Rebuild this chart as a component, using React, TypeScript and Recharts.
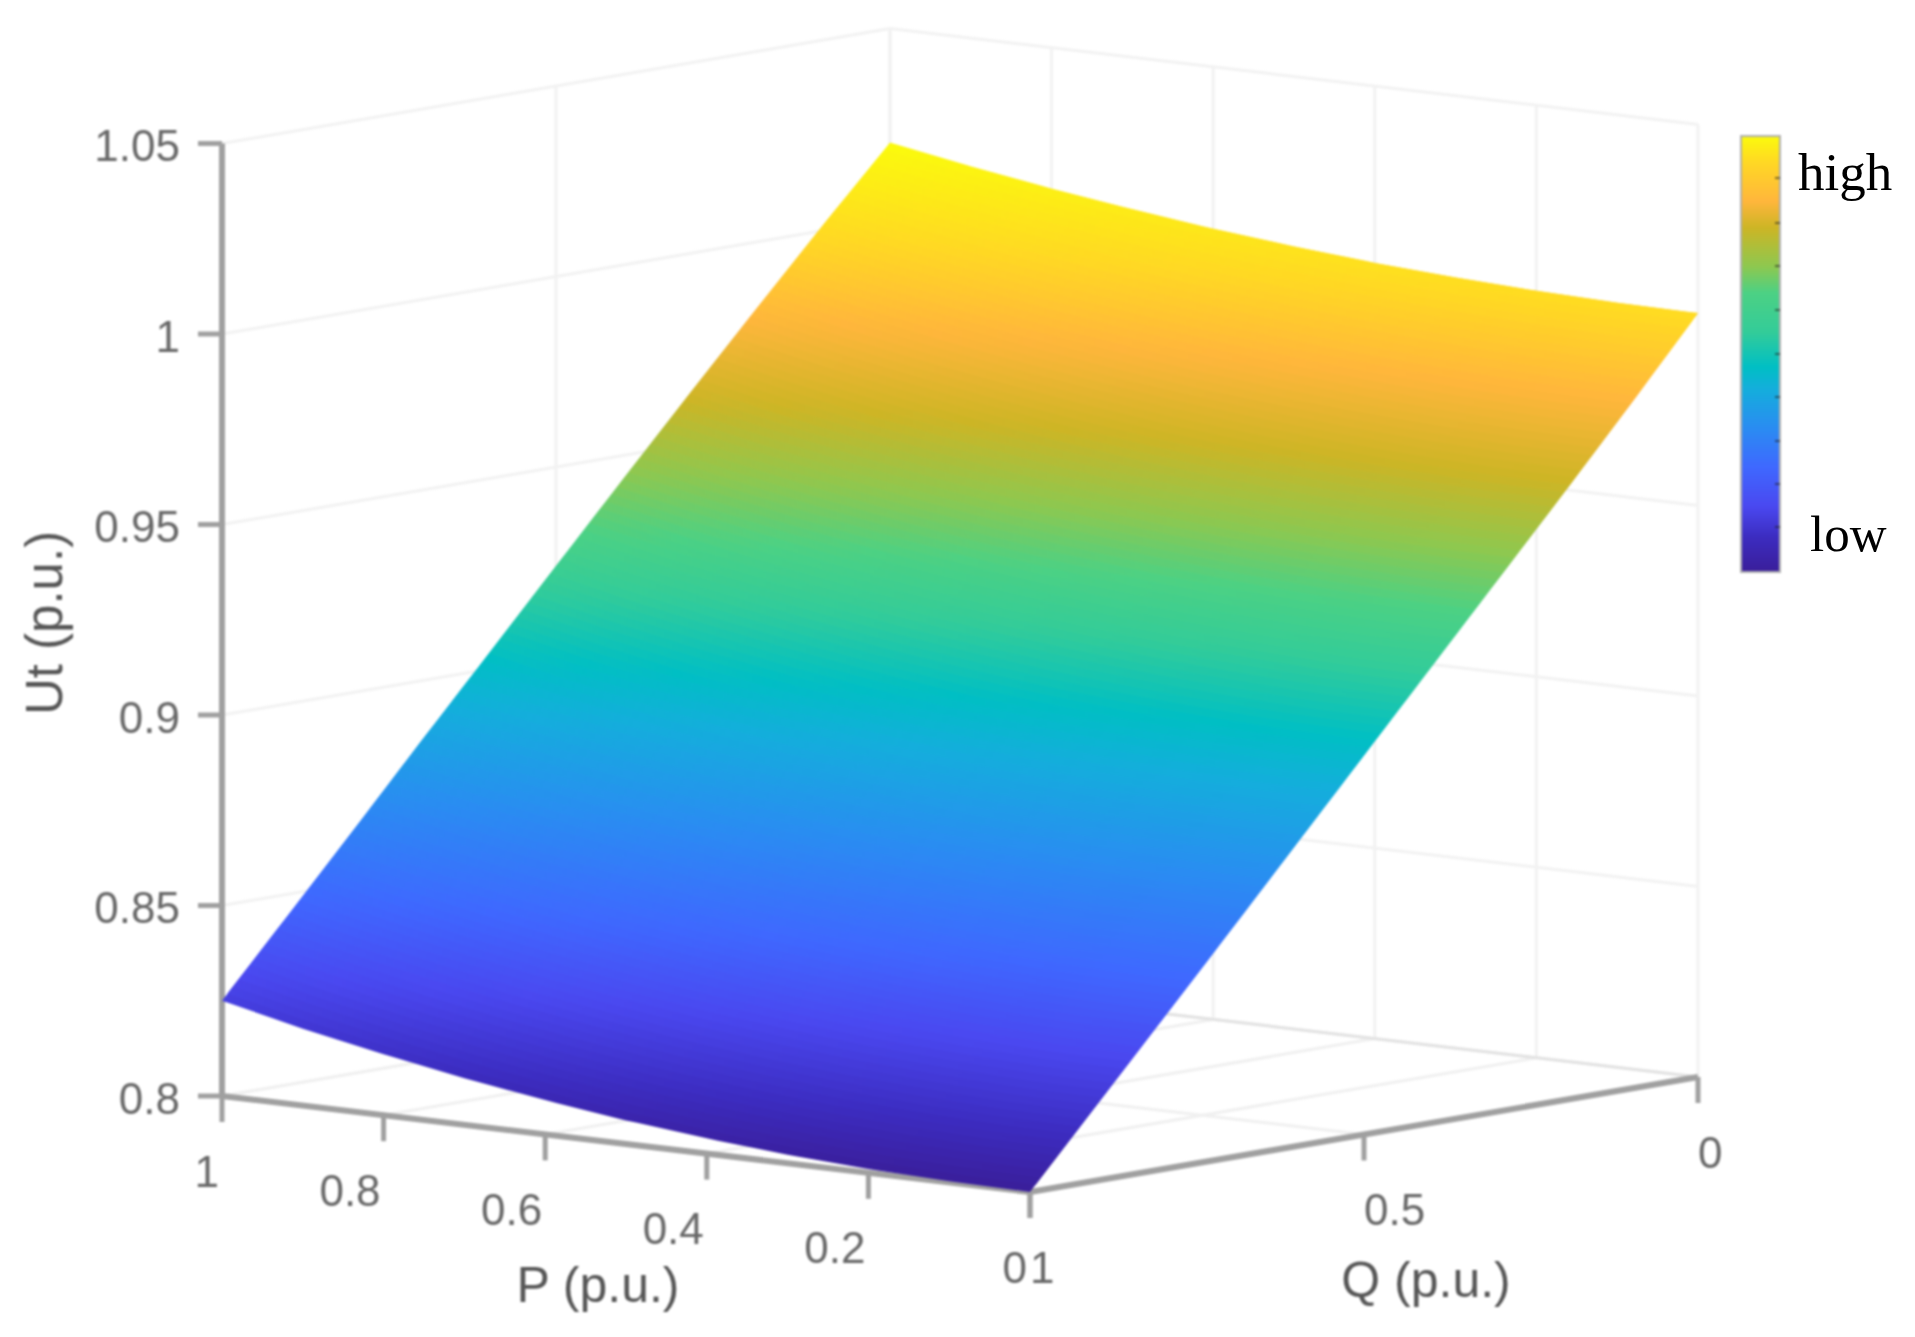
import { Area, ComposedChart, Line, ReferenceArea, ReferenceDot, XAxis, YAxis } from "recharts";

const WIDTH = 1915;
const HEIGHT = 1337;

const pValues = [0, 0.1, 0.2, 0.3, 0.4, 0.5, 0.6, 0.7, 0.8, 0.9, 1];
const qValues = [1, 0.9, 0.8, 0.7, 0.6, 0.5, 0.4, 0.3, 0.2, 0.1, 0];

// Ut: one row per Q, one column per P
const utRows = [
  [0.8, 0.8003, 0.801, 0.8022, 0.804, 0.8062, 0.809, 0.8122, 0.816, 0.8202, 0.825],
  [0.8198, 0.82, 0.8208, 0.822, 0.8238, 0.826, 0.8288, 0.832, 0.8357, 0.84, 0.8447],
  [0.8396, 0.8398, 0.8406, 0.8418, 0.8436, 0.8458, 0.8486, 0.8518, 0.8555, 0.8598, 0.8645],
  [0.8595, 0.8598, 0.8605, 0.8618, 0.8635, 0.8658, 0.8685, 0.8718, 0.8755, 0.8798, 0.8845],
  [0.8795, 0.8797, 0.8805, 0.8817, 0.8835, 0.8857, 0.8884, 0.8916, 0.8953, 0.8995, 0.9042],
  [0.8995, 0.8997, 0.9005, 0.9017, 0.9034, 0.9056, 0.9083, 0.9115, 0.9152, 0.9193, 0.924],
  [0.9195, 0.9197, 0.9205, 0.9217, 0.9234, 0.9255, 0.9282, 0.9314, 0.935, 0.9391, 0.9437],
  [0.9395, 0.9397, 0.9404, 0.9416, 0.9433, 0.9454, 0.948, 0.9511, 0.9547, 0.9587, 0.9632],
  [0.9595, 0.9597, 0.9604, 0.9616, 0.9632, 0.9652, 0.9678, 0.9708, 0.9742, 0.9781, 0.9825],
  [0.9798, 0.98, 0.9807, 0.9818, 0.9833, 0.9852, 0.9876, 0.9904, 0.9937, 0.9974, 1.0015],
  [1.0005, 1.0007, 1.0013, 1.0023, 1.0036, 1.0054, 1.0075, 1.0101, 1.013, 1.0163, 1.02],
];

const utTicks = [0.8, 0.85, 0.9, 0.95, 1, 1.05];
const utTickLabels = ["0.8", "0.85", "0.9", "0.95", "1", "1.05"];
const pTicks = [1, 0.8, 0.6, 0.4, 0.2, 0];
const pTickLabels = ["1", "0.8", "0.6", "0.4", "0.2", "0"];
const qTicks = [1, 0.5, 0];
const qTickLabels = ["1", "0.5", "0"];

// colour bar, bottom to top
const barStops = [0, 0.08, 0.15, 0.24, 0.33, 0.42, 0.47, 0.55, 0.64, 0.7, 0.79, 0.85, 0.94, 1];
// same colours as they land on the surface
const surfaceStops = [0, 0.06, 0.14, 0.22, 0.32, 0.415, 0.468, 0.54, 0.6, 0.66, 0.735, 0.82, 0.9, 1];
const mapColors = [
  "#3a1e9a", "#3c2cc0", "#4a48f0", "#3f68ff", "#2a8cf2", "#14aedc", "#00bfc4",
  "#33cc99", "#4cd184", "#8dc850", "#cdb525", "#ffb63c", "#ffd824", "#fbfb0c",
];
const barTicks = [178, 223, 266, 310, 354, 397, 441, 484, 527];

const UT_MIN = 0.8;
const UT_MAX = 1.02;
const SUBSTEPS = 12;

// the MATLAB view is orthographic, so one affine map is enough
const project = (p: number, q: number, ut: number) => ({
  x: 1030 - 808 * p + 668 * (1 - q),
  y: 1192 - 96 * p - 115 * (1 - q) - 3810 * (ut - UT_MIN),
});

const hexToRgb = (h: string) => [1, 3, 5].map((i) => parseInt(h.slice(i, i + 2), 16));

function colorFor(ut: number) {
  const t = Math.min(1, Math.max(0, (ut - UT_MIN) / (UT_MAX - UT_MIN)));
  let i = 0;
  while (i < surfaceStops.length - 2 && t > surfaceStops[i + 1]) i++;
  const f = (t - surfaceStops[i]) / (surfaceStops[i + 1] - surfaceStops[i]);
  const a = hexToRgb(mapColors[i]);
  const b = hexToRgb(mapColors[i + 1]);
  return `rgb(${a.map((v, k) => Math.round(v + (b[k] - v) * f)).join(",")})`;
}

// shading between the read rows, like shading interp
function rowAt(t: number) {
  const i = Math.min(Math.floor(t), utRows.length - 2);
  const f = t - i;
  return pValues.map((p, k) => ({
    p,
    q: qValues[i] + (qValues[i + 1] - qValues[i]) * f,
    ut: utRows[i][k] + (utRows[i + 1][k] - utRows[i][k]) * f,
  }));
}

const rowPoints = (t: number) => rowAt(t).map((c) => project(c.p, c.q, c.ut)).reverse();

function yOn(poly: { x: number; y: number }[], x: number) {
  for (let i = 0; i < poly.length - 1; i++) {
    const a = poly[i];
    const b = poly[i + 1];
    if (x <= b.x) return a.y + ((b.y - a.y) * (x - a.x)) / (b.x - a.x || 1);
  }
  return poly[poly.length - 1].y;
}

const lastT = utRows.length - 1;
const stripCount = lastT * SUBSTEPS;

const strips = Array.from({ length: stripCount }, (_, j) => {
  const low = rowPoints(j / SUBSTEPS);
  const up = rowPoints(Math.min((j + 2) / SUBSTEPS, lastT));
  const upper = [low[0], ...up];
  const lower = [...low, up[up.length - 1]];
  const xs = [...new Set([...upper, ...lower].map((pt) => pt.x))].sort((a, b) => a - b);
  const mid = rowAt((j + 0.5) / SUBSTEPS).reverse();
  const midPts = mid.map((c) => project(c.p, c.q, c.ut));
  return {
    id: `strip-${j}`,
    data: xs.map((x) => ({ x, range: [yOn(upper, x), yOn(lower, x)] })),
    x1: midPts[0].x,
    x2: midPts[midPts.length - 1].x,
    colors: mid.map((c) => colorFor(c.ut)),
  };
});

type Seg = { pts: { x: number; y: number }[]; color: string; w: number };
const seg = (a: { x: number; y: number }, b: { x: number; y: number }, color: string, w: number): Seg => ({ pts: [a, b], color, w });

const GRID = "#f2f2f2";
const FLOOR = "#f0f0f0";
const AXIS = "#a0a0a0";
const segments: Seg[] = [];

utTicks.forEach((u) => {
  segments.push(seg(project(1, 0, u), project(0, 0, u), GRID, 3));
  segments.push(seg(project(1, 1, u), project(1, 0, u), GRID, 3));
});
pTicks.forEach((p) => {
  segments.push(seg(project(p, 0, 0.8), project(p, 0, 1.05), GRID, 3));
  segments.push(seg(project(p, 1, 0.8), project(p, 0, 0.8), FLOOR, 3));
});
qTicks.forEach((q) => {
  segments.push(seg(project(1, q, 0.8), project(1, q, 1.05), GRID, 3));
  segments.push(seg(project(0, q, 0.8), project(1, q, 0.8), q === 0 ? "#e2e2e2" : FLOOR, 3));
});
// box axes
segments.push(seg(project(1, 1, 1.05), project(1, 1, 0.8), AXIS, 6));
segments.push(seg(project(1, 1, 0.8), project(0, 1, 0.8), AXIS, 6));
segments.push(seg(project(0, 1, 0.8), project(0, 0, 0.8), AXIS, 6));
utTicks.forEach((u) => {
  const pt = project(1, 1, u);
  segments.push(seg({ x: pt.x - 24, y: pt.y }, pt, AXIS, 5));
});
pTicks.forEach((p) => {
  const pt = project(p, 1, 0.8);
  segments.push(seg(pt, { x: pt.x, y: pt.y + 26 }, AXIS, 5));
});
qTicks.forEach((q) => {
  const pt = project(0, q, 0.8);
  segments.push(seg(pt, { x: pt.x, y: pt.y + 26 }, AXIS, 5));
});

const TICK_GREY = "#686868";
const TITLE_GREY = "#565656";

type Lbl = { x: number; y: number; text: string; anchor: string; size: number; fill: string; rotate?: boolean };
const labels: Lbl[] = [
  ...utTicks.map((u, i) => ({ x: 180, y: project(1, 1, u).y + 2, text: utTickLabels[i], anchor: "end", size: 44, fill: TICK_GREY })),
  ...pTicks.map((p, i) => {
    const pt = project(p, 1, 0.8);
    return { x: pt.x - 3, y: pt.y + 75, text: pTickLabels[i], anchor: "end", size: 44, fill: TICK_GREY };
  }),
  ...qTicks.map((q, i) => {
    const pt = project(0, q, 0.8);
    return { x: pt.x, y: pt.y + 75, text: qTickLabels[i], anchor: "start", size: 44, fill: TICK_GREY };
  }),
  { x: 598, y: 1285, text: "P (p.u.)", anchor: "middle", size: 50, fill: TITLE_GREY },
  { x: 1426, y: 1280, text: "Q (p.u.)", anchor: "middle", size: 50, fill: TITLE_GREY },
  { x: 44, y: 623, text: "Ut (p.u.)", anchor: "middle", size: 51, fill: TITLE_GREY, rotate: true },
];

const layer: React.CSSProperties = { position: "absolute", left: 0, top: 0 };

function Axes() {
  return (
    <>
      <XAxis type='number' dataKey='x' domain={[0, WIDTH]} hide />
      <YAxis type='number' domain={[0, HEIGHT]} reversed hide />
    </>
  );
}

export default function App() {
  return (
    <div style={{ position: "relative", width: WIDTH, height: HEIGHT, background: "#fff", overflow: "hidden" }}>
      <style>{"body{margin:0;background:#fff}"}</style>
      <div style={{ ...layer, filter: "blur(1.1px)" }}>
        <div style={layer}>
          <ComposedChart width={WIDTH} height={HEIGHT} margin={{ top: 0, right: 0, bottom: 0, left: 0 }}>
            {Axes()}
            {segments.map((s, i) => (
              <Line
                key={i}
                data={s.pts}
                dataKey='y'
                stroke={s.color}
                strokeWidth={s.w}
                dot={false}
                activeDot={false}
                legendType='none'
                isAnimationActive={false}
              />
            ))}
            {labels.map((l, i) => (
              <ReferenceDot
                key={i}
                x={l.x}
                y={l.y}
                r={0}
                shape={(p: any) => (
                  <text
                    x={p.cx}
                    y={p.cy}
                    textAnchor={l.anchor as any}
                    dominantBaseline='central'
                    fontFamily='"Liberation Sans", Arial, sans-serif'
                    fontSize={l.size}
                    fill={l.fill}
                    transform={l.rotate ? `rotate(-90 ${p.cx} ${p.cy})` : undefined}
                  >
                    {l.text}
                  </text>
                )}
              />
            ))}
          </ComposedChart>
        </div>
        <div style={{ ...layer, width: WIDTH, height: HEIGHT }}>
          <ComposedChart width={WIDTH} height={HEIGHT} margin={{ top: 0, right: 0, bottom: 0, left: 0 }}>
            <defs>
              {strips.map((s) => (
                <linearGradient key={s.id} id={s.id} gradientUnits='userSpaceOnUse' x1={s.x1} y1={0} x2={s.x2} y2={0}>
                  {s.colors.map((c, i) => (
                    <stop key={i} offset={i / (s.colors.length - 1)} stopColor={c} />
                  ))}
                </linearGradient>
              ))}
              <linearGradient id='bar-grad' x1='0' y1='1' x2='0' y2='0'>
                {barStops.map((o, i) => (
                  <stop key={i} offset={o} stopColor={mapColors[i]} />
                ))}
              </linearGradient>
            </defs>
            {Axes()}
            {strips.map((s) => (
              <Area
                key={s.id}
                data={s.data}
                dataKey='range'
                type='linear'
                fill={`url(#${s.id})`}
                fillOpacity={1}
                stroke='none'
                dot={false}
                activeDot={false}
                legendType='none'
                isAnimationActive={false}
              />
            ))}
            <ReferenceArea x1={1741} x2={1780} y1={136} y2={572} fill='url(#bar-grad)' fillOpacity={1} stroke='#b0b0b0' strokeWidth={2} />
            {barTicks.map((y) => (
              <Line
                key={y}
                data={[{ x: 1775, y }, { x: 1780, y }]}
                dataKey='y'
                stroke='rgba(30,30,30,.55)'
                strokeWidth={2}
                dot={false}
                activeDot={false}
                legendType='none'
                isAnimationActive={false}
              />
            ))}
          </ComposedChart>
        </div>
      </div>
      <div style={{ position: "absolute", left: 1798, top: 146, font: '53px/1 "Liberation Serif", serif', color: "#000" }}>high</div>
      <div style={{ position: "absolute", left: 1810, top: 509, font: '51px/1 "Liberation Serif", serif', color: "#000" }}>low</div>
    </div>
  );
}
